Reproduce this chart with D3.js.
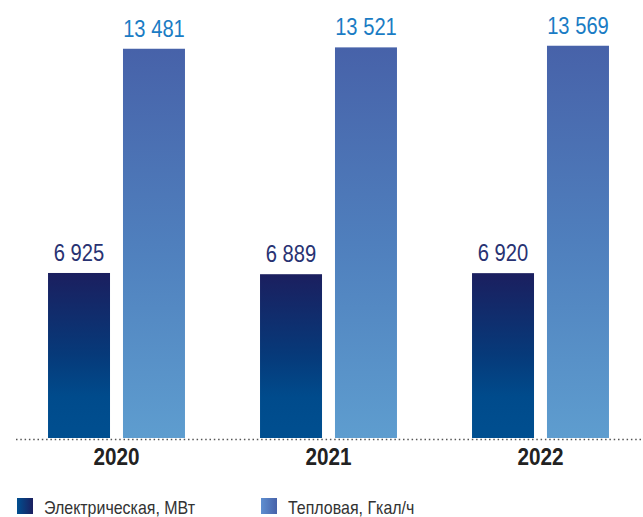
<!DOCTYPE html>
<html><head><meta charset="utf-8">
<script src="https://cdn.jsdelivr.net/npm/d3@7"></script>
<style>body{margin:0;background:#fff}svg{display:block}</style>
</head><body>
<svg id="c" width="643" height="517"></svg>
<script>
const years = ["2020","2021","2022"];
const electric = [6925, 6889, 6920];
const thermal = [13481, 13521, 13569];
const seriesNames = ["Электрическая, МВт", "Тепловая, Гкал/ч"];
const valueLabels = {
  electric: ["6 925","6 889","6 920"],
  thermal: ["13 481","13 521","13 569"]
};

const svg = d3.select("#c");
const defs = svg.append("defs");
function vgrad(id, stops){
  const g = defs.append("linearGradient").attr("id",id).attr("x1",0).attr("y1",0).attr("x2",0).attr("y2",1);
  stops.forEach(s=>g.append("stop").attr("offset",s[0]).attr("stop-color",s[1]));
}
function hgrad(id, stops){
  const g = defs.append("linearGradient").attr("id",id).attr("x1",0).attr("y1",0).attr("x2",1).attr("y2",0);
  stops.forEach(s=>g.append("stop").attr("offset",s[0]).attr("stop-color",s[1]));
}
vgrad("gDark", [[0,"#1b1f5f"],[0.5,"#063a7a"],[0.75,"#004b8c"],[1,"#004f90"]]);
vgrad("gLight", [[0,"#4762a9"],[0.5,"#4f7fbd"],[1,"#5e9dcf"]]);
hgrad("lDark", [[0,"#004f90"],[1,"#1b1f5f"]]);
hgrad("lLight", [[0,"#5e8fd0"],[1,"#4762a9"]]);

function condense(sel, f){
  sel.each(function(){
    const w = this.getComputedTextLength();
    d3.select(this).attr("textLength", w*f).attr("lengthAdjust","spacingAndGlyphs");
  });
}

const baseY = 438;
const y = d3.scaleLinear().domain([2100, 14000]).range([baseY, 31]);
const x = d3.scaleBand().domain(years).range([10.5, 646.5]).paddingInner(0.354).paddingOuter(0.177);
const keys = ["electric","thermal"];
const xs = d3.scaleBand().domain(keys).range([0, x.bandwidth()]).paddingInner(0.173);

const data = years.map((yr,i)=>({year:yr, electric:electric[i], thermal:thermal[i], i}));
const fills = {electric:"url(#gDark)", thermal:"url(#gLight)"};
const labelColors = {electric:"#283272", thermal:"#1a7cc4"};

const groups = svg.selectAll("g.grp").data(data).join("g").attr("class","grp")
  .attr("transform", d=>`translate(${x(d.year)},0)`);

groups.selectAll("rect").data(d=>keys.map(k=>({k, v:d[k], i:d.i}))).join("rect")
  .attr("x", d=>xs(d.k)).attr("width", xs.bandwidth())
  .attr("y", d=>y(d.v)).attr("height", d=>baseY - y(d.v))
  .attr("fill", d=>fills[d.k]);

const vals = groups.selectAll("text.val").data(d=>keys.map(k=>({k, v:d[k], i:d.i}))).join("text")
  .attr("class","val")
  .attr("x", d=>xs(d.k)+xs.bandwidth()/2)
  .attr("y", d=>y(d.v)-12)
  .attr("text-anchor","middle")
  .attr("font-family","'Liberation Sans',Arial,sans-serif")
  .attr("font-size", 24)
  .attr("fill", d=>labelColors[d.k])
  .text(d=>valueLabels[d.k][d.i]);
condense(vals, 0.84);

// baseline
svg.append("line").attr("x1",16).attr("x2",643).attr("y1",baseY+1.5).attr("y2",baseY+1.5)
  .attr("stroke","#555").attr("stroke-width",1.5).attr("stroke-dasharray","1.5,2.8");

// year labels
const yrs = svg.selectAll("text.yr").data(years).join("text").attr("class","yr")
  .attr("x", d=>x(d)+x.bandwidth()/2).attr("y", 465)
  .attr("text-anchor","middle")
  .attr("font-family","'Liberation Sans',Arial,sans-serif")
  .attr("font-weight","bold").attr("font-size",23).attr("fill","#222")
  .text(d=>d);
condense(yrs, 0.9);

// legend
const legX = [17, 261];
const legFill = ["url(#lDark)","url(#lLight)"];
const leg = svg.selectAll("g.leg").data(seriesNames).join("g").attr("class","leg")
  .attr("transform",(d,i)=>`translate(${legX[i]},498)`);
leg.append("rect").attr("width",16).attr("height",16).attr("fill",(d,i)=>legFill[i]);
const legT = leg.append("text").attr("x",27).attr("y",16)
  .attr("font-family","'Liberation Sans',Arial,sans-serif")
  .attr("font-size",19).attr("fill","#333").text(d=>d);
condense(legT, 0.84);
</script>
</body></html>
